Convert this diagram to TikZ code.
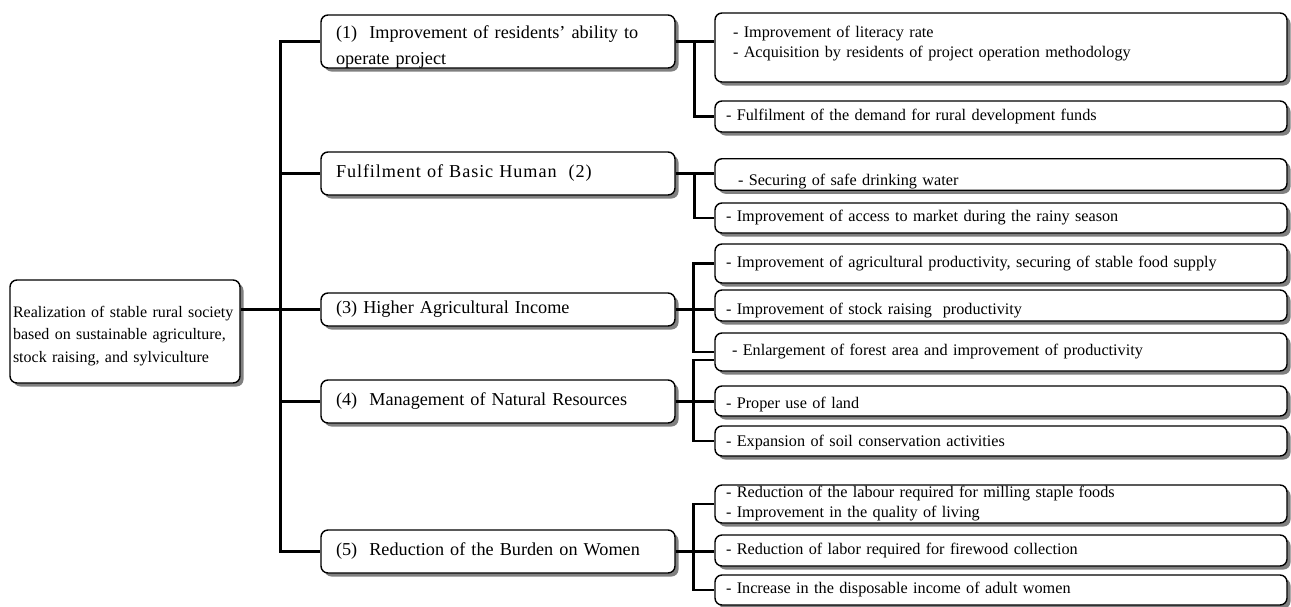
\documentclass[tikz,border=0pt]{standalone}
\usepackage{fontspec}
\setmainfont{Liberation Serif}
\usetikzlibrary{shadows}

\begin{document}
\begin{tikzpicture}[x=1pt,y=-1pt,
  box/.style={draw, line width=1.4pt, rounded corners=7pt, fill=white, inner ysep=1pt,
    drop shadow={shadow xshift=3.5pt,shadow yshift=-3.5pt,fill=black!50,opacity=1}},
  rootbox/.style={box, inner xsep=3pt, text width=224pt, align=left, minimum width=230pt,
    font=\fontsize{16}{22.5}\selectfont},
  midbox/.style={box, inner xsep=15pt, text width=324pt, align=left, minimum width=354pt,
    font=\fontsize{18.2}{26}\selectfont},
  subbox/.style={box, inner xsep=11pt, text width=550pt, align=left, minimum width=572pt,
    font=\fontsize{16.2}{20}\selectfont},
  conn/.style={line width=2.8pt}]
\useasboundingbox (0,0) rectangle (1291,606);

% goal
\node[rootbox, minimum height=103pt, text depth=39.5pt] (root) at (125,331.5)
  {Realization of stable rural society\\based on sustainable agriculture,\\stock raising, and sylviculture};

% the five outputs
\node[midbox, minimum height=53pt, text depth=19pt] (b1) at (498,41.5)
  {(1)\ \ Improvement of residents' ability to\\operate project};
\node[midbox, minimum height=43pt] (b2) at (498,173.5)
  {\addfontfeature{LetterSpace=5}Fulfilment of Basic Human\ \ (2)};
\node[midbox, minimum height=33pt] (b3) at (498,309.5) {(3) Higher Agricultural Income};
\node[midbox, minimum height=43pt] (b4) at (498,401.5) {(4)\ \ Management of Natural Resources};
\node[midbox, minimum height=43pt] (b5) at (498,551.5) {(5)\ \ Reduction of the Burden on Women};

% activities
\node[subbox, minimum height=69pt, text depth=31pt] (r1a) at (1001,47.5)
  {\hspace*{7pt}- Improvement of literacy rate\\\hspace*{7pt}- Acquisition by residents of project operation methodology};
\node[subbox, minimum height=31pt] (r1b) at (1001,116.5) {- Fulfilment of the demand for rural development funds};
\node[subbox, minimum height=31pt, text height=26pt] (r2a) at (1001,174.5) {\hspace*{12pt}- Securing of safe drinking water};
\node[subbox, minimum height=30pt] (r2b) at (1001,218) {- Improvement of access to market during the rainy season};
\node[subbox, minimum height=39pt] (r3a) at (1001,263.5) {- Improvement of agricultural productivity, securing of stable food supply};
\node[subbox, minimum height=31pt, text height=22pt] (r3b) at (1001,305.5) {- Improvement of stock raising\ \ productivity};
\node[subbox, minimum height=38pt] (r3c) at (1001,352) {\hspace*{6pt}- Enlargement of forest area and improvement of productivity};
\node[subbox, minimum height=30pt, text height=18pt] (r4a) at (1001,401) {- Proper use of land};
\node[subbox, minimum height=30pt, text height=14pt] (r4b) at (1001,441) {- Expansion of soil conservation activities};
\node[subbox, minimum height=38pt] (r5a) at (1001,504)
  {- Reduction of the labour required for milling staple foods\\- Improvement in the quality of living};
\node[subbox, minimum height=31pt] (r5b) at (1001,550.5) {- Reduction of labor required for firewood collection};
\node[subbox, minimum height=30pt] (r5c) at (1001,590) {- Increase in the disposable income of adult women};

% trunk
\draw[conn] (b1.west) -- ++(-40,0) |- (b5.west);
\draw[conn] (b2.west) -- ++(-40,0);
\draw[conn] (b4.west) -- ++(-40,0);
\draw[conn] (root.east |- b3.west) -- (b3.west);

% branches
\draw[conn] (b1.east) -- (b1.east -| r1a.west);
\draw[conn] (b1.east) ++(19,0) |- (r1b.west);
\draw[conn] (b2.east) -- (b2.east -| r2a.west);
\draw[conn] (b2.east) ++(19,0) |- (r2b.west);
\draw[conn] (b3.east) -- (b3.east -| r3b.west);
\draw[conn] (r3a.west) -- ++(-21,0) |- (r3c.west);
\draw[conn] (b4.east) -- (b4.east -| r4a.west);
\draw[conn] ([yshift=-8pt]r3c.west) -- ++(-21,0) |- (r4b.west);
\draw[conn] (b5.east) -- (b5.east -| r5b.west);
\draw[conn] (r5a.west) -- ++(-21,0) |- (r5c.west);
\end{tikzpicture}
\end{document}
